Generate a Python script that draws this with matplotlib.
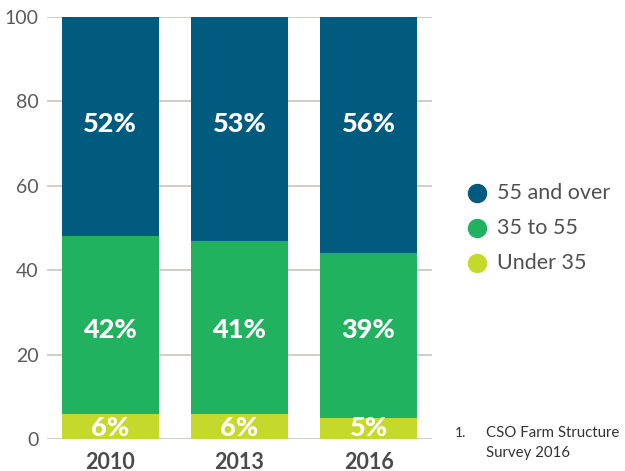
import matplotlib.pyplot as plt
import numpy as np

plt.rcParams['font.family'] = ['Lato', 'DejaVu Sans']

years = ['2010', '2013', '2016']
under_35 = [6, 6, 5]
mid_35_55 = [42, 41, 39]
over_55 = [52, 53, 56]
series_names = ['55 and over', '35 to 55', 'Under 35']
colours = {'55 and over': '#005b7f', '35 to 55': '#20b25e', 'Under 35': '#c5d92d'}
y_ticks = [0, 20, 40, 60, 80, 100]

fig = plt.figure(figsize=(6.25, 4.71), dpi=100)
ax = fig.add_axes([0.0752, 0.0679, 0.616, 0.896])

x = np.arange(len(years))
w = 0.75

for t in y_ticks:
    ax.axhline(t, color='#cdc9c2', lw=1.3, zorder=0)

# labels sit at the same height in every column
label_y = {'Under 35': 2.7, '35 to 55': 25.8, '55 and over': 74.6}

bottom = np.zeros(len(years))
stack = [('Under 35', under_35), ('35 to 55', mid_35_55), ('55 and over', over_55)]
for name, vals in stack:
    vals = np.array(vals, dtype=float)
    ax.bar(x, vals, w, bottom=bottom, color=colours[name], zorder=2)
    for xi, v in zip(x, vals):
        ax.text(xi, label_y[name], f'{int(v)}%', ha='center', va='center',
                color='white', fontsize=19.5, fontweight='black', zorder=3)
    bottom += vals

ax.set_xlim(-0.49, 2.49)
ax.set_ylim(0, 100)
ax.set_yticks(y_ticks)
ax.set_xticks(x)
ax.set_xticklabels(years, fontsize=15.5, fontweight='bold', color='#4a4a4a')
ax.tick_params(axis='y', length=0, labelsize=14, labelcolor='#5a5a5a', pad=6)
ax.tick_params(axis='x', length=0, pad=9)
for s in ax.spines.values():
    s.set_visible(False)

# legend
leg_y = [0.59, 0.515, 0.442]
for name, yy in zip(series_names, leg_y):
    fig.lines.append(plt.Line2D([0.763], [yy], transform=fig.transFigure,
                                marker='o', markersize=13, color=colours[name], lw=0))
    fig.text(0.795, yy, name, color='#505050', fontsize=15.5, va='center')

# footnote
fig.text(0.728, 0.081, '1.', fontsize=10, color='#333333', va='center')
fig.text(0.778, 0.081, 'CSO Farm Structure', fontsize=10.8, color='#333333', va='center')
fig.text(0.778, 0.039, 'Survey 2016', fontsize=10.8, color='#333333', va='center')

fig.savefig('out.png', dpi=100)
